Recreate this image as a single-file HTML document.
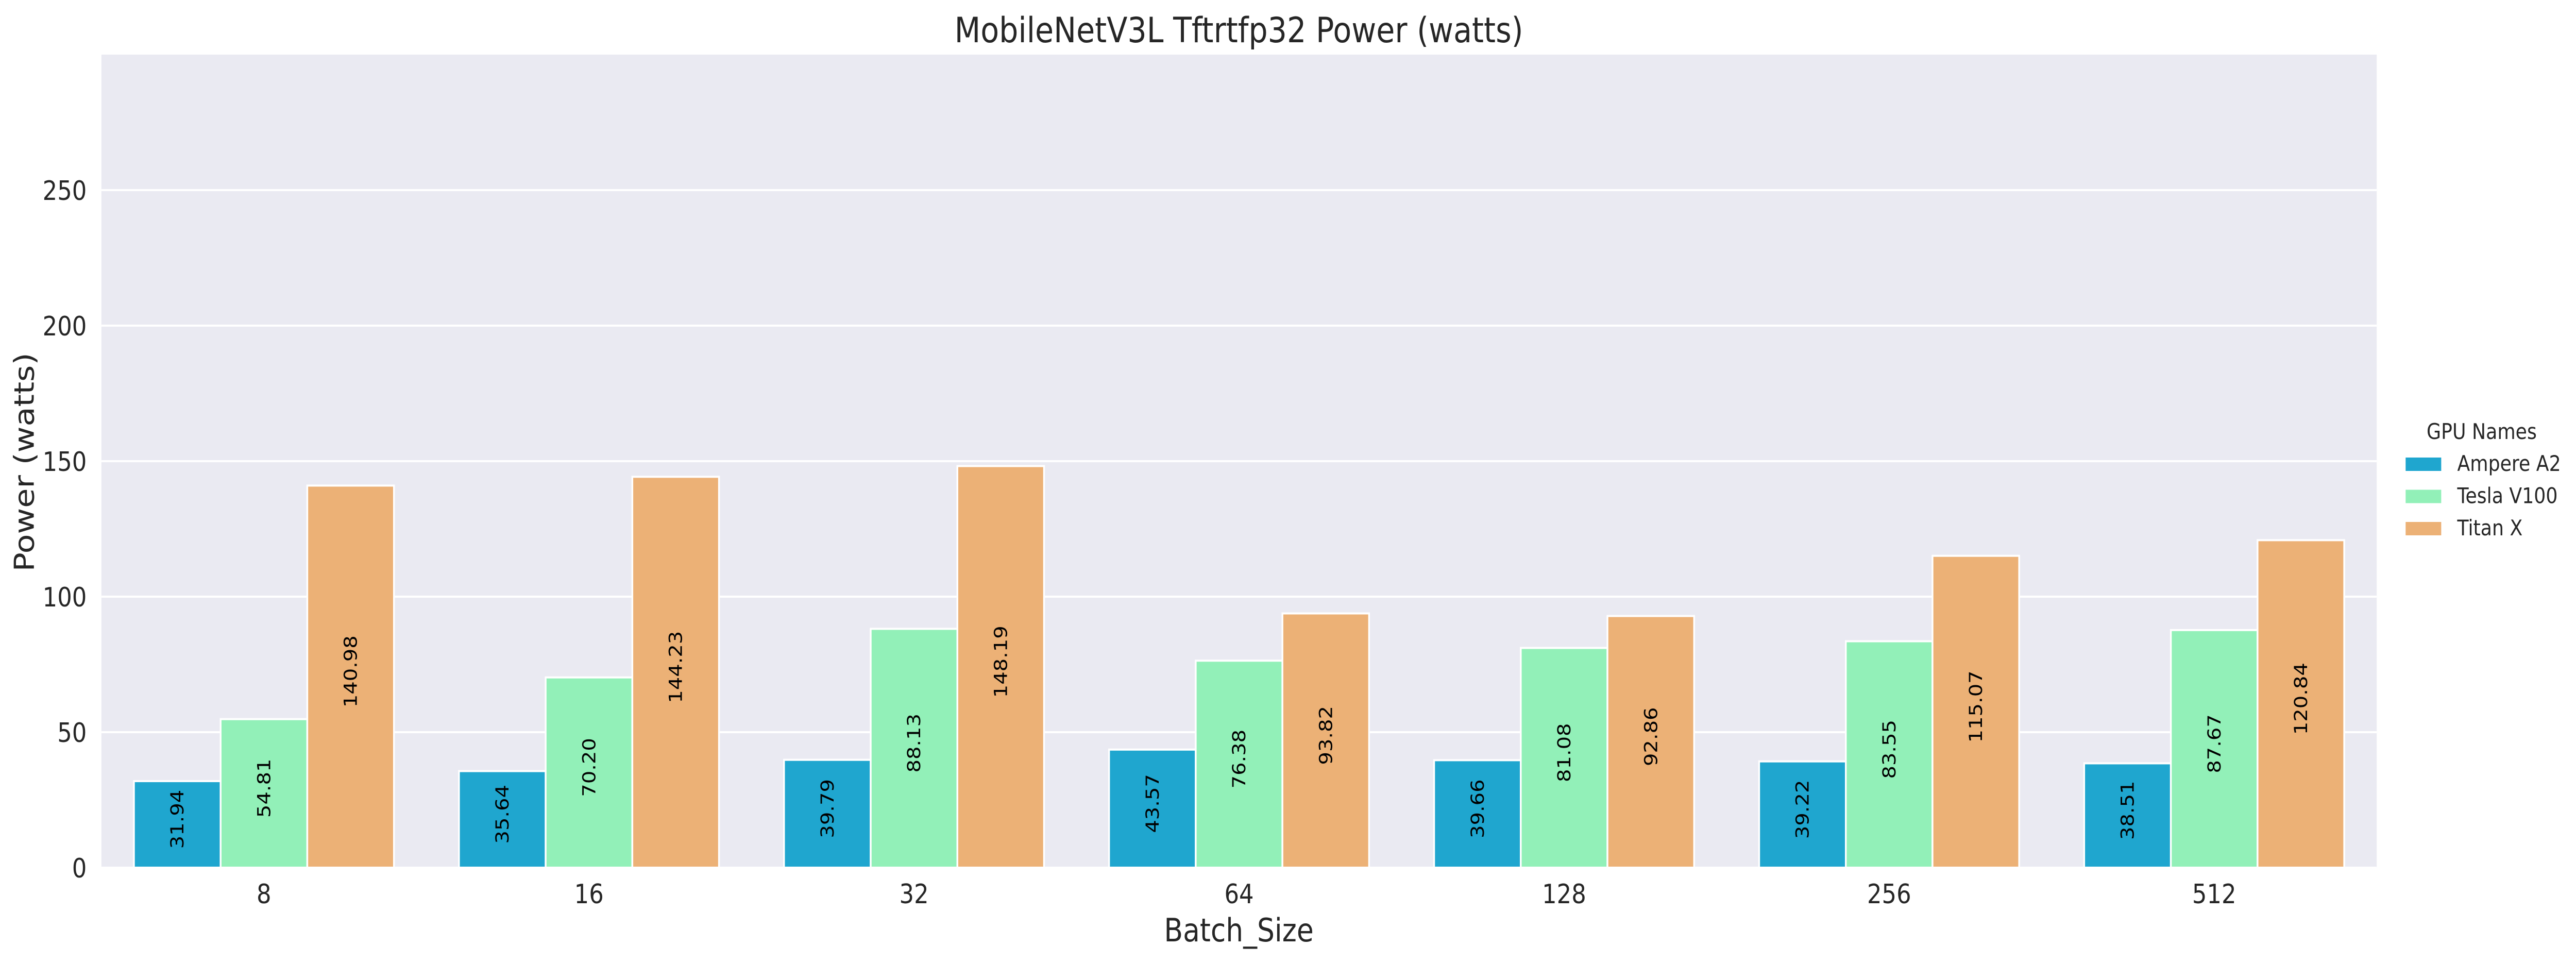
<!DOCTYPE html>
<html><head><meta charset="utf-8">
<style>
html,body{margin:0;padding:0;background:#fff;width:100%;height:100%;overflow:hidden;}
svg{display:block;width:100vw;height:100vh;font-family:"DejaVu Sans","Liberation Sans",sans-serif;}
</style></head>
<body>
<svg id="chart" viewBox="0 0 5791 1869" preserveAspectRatio="none" xmlns="http://www.w3.org/2000/svg">
<rect x="228" y="106" width="5115" height="1578" fill="#eaeaf2"/>
<g id="grid"></g>
<g id="bars"></g>
<g id="labels"></g>
<text x="2785" y="82" font-size="68" text-anchor="middle" fill="#262626">MobileNetV3L Tftrtfp32 Power (watts)</text>
<text x="2785" y="1827" font-size="62" text-anchor="middle" fill="#262626">Batch_Size</text>
<text x="0" y="0" font-size="62" text-anchor="middle" fill="#262626" transform="translate(76,897) rotate(-90)">Power (watts)</text>
<g>
<text x="5579" y="852" font-size="42" text-anchor="middle" fill="#262626">GPU Names</text>
<g id="legend-entries"></g>
</g>
</svg>
<script>
const categories = ["8","16","32","64","128","256","512"];
const seriesNames = ["Ampere A2","Tesla V100","Titan X"];
const ampereA2 = [31.94,35.64,39.79,43.57,39.66,39.22,38.51];
const teslaV100 = [54.81,70.20,88.13,76.38,81.08,83.55,87.67];
const titanX = [140.98,144.23,148.19,93.82,92.86,115.07,120.84];
const yTicks = [0,50,100,150,200,250];

const NS = "http://www.w3.org/2000/svg";
const colors = ["#1fa6cf","#92f0b8","#ecb176"];
const series = [ampereA2, teslaV100, titanX];
const L=228, R=5343, T=106, B=1684, yMax=300;
const y = v => B - (v/yMax)*(B-T);
const catW = (R-L)/categories.length;
const x = i => L + catW*i + catW/2;
const barW = catW*0.8/series.length;
function mk(tag, attrs, parent){const e=document.createElementNS(NS,tag);for(const k in attrs)e.setAttribute(k,attrs[k]);parent.appendChild(e);return e;}
const grid=document.getElementById('grid'), bars=document.getElementById('bars'), labels=document.getElementById('labels'), leg=document.getElementById('legend-entries');

yTicks.forEach(t=>{
  const ln=mk('line',{x1:L,x2:R,y1:y(t),y2:y(t),stroke:'#fff','stroke-width':4},grid);
  
  
  const tx=mk('text',{x:195,y:y(t)+19,'font-size':52,'text-anchor':'end',fill:'#262626'},grid);
  tx.textContent=t;
  
  
});
categories.forEach((c,i)=>{
  const tx=mk('text',{x:x(i),y:1753,'font-size':52,'text-anchor':'middle',fill:'#262626'},labels);
  tx.textContent=c;
  
  
  series.forEach((s,j)=>{
    const bx=x(i)-catW*0.4+barW*j;
    const r=mk('rect',{x:bx,y:y(s[i]),width:barW,height:B-y(s[i]),fill:colors[j],stroke:'#fff','stroke-width':4},bars);
    
    
    const cx=bx+barW/2, cy=(y(s[i])+B)/2-10;
    const v=mk('text',{x:0,y:0,'font-size':40,'text-anchor':'middle',fill:'#000',transform:`translate(${cx+14},${cy}) rotate(-90)`},labels);
    v.textContent=s[i].toFixed(2);
    
    
  });
});
seriesNames.forEach((n,j)=>{
  const py=888+j*62.5;
  const p=mk('rect',{x:5408,y:py,width:80,height:26,fill:colors[j]},leg);
  
  
  const t=mk('text',{x:5524,y:py+26,'font-size':42,fill:'#262626'},leg);
  t.textContent=n;
  
  
});
</script>
</body></html>
